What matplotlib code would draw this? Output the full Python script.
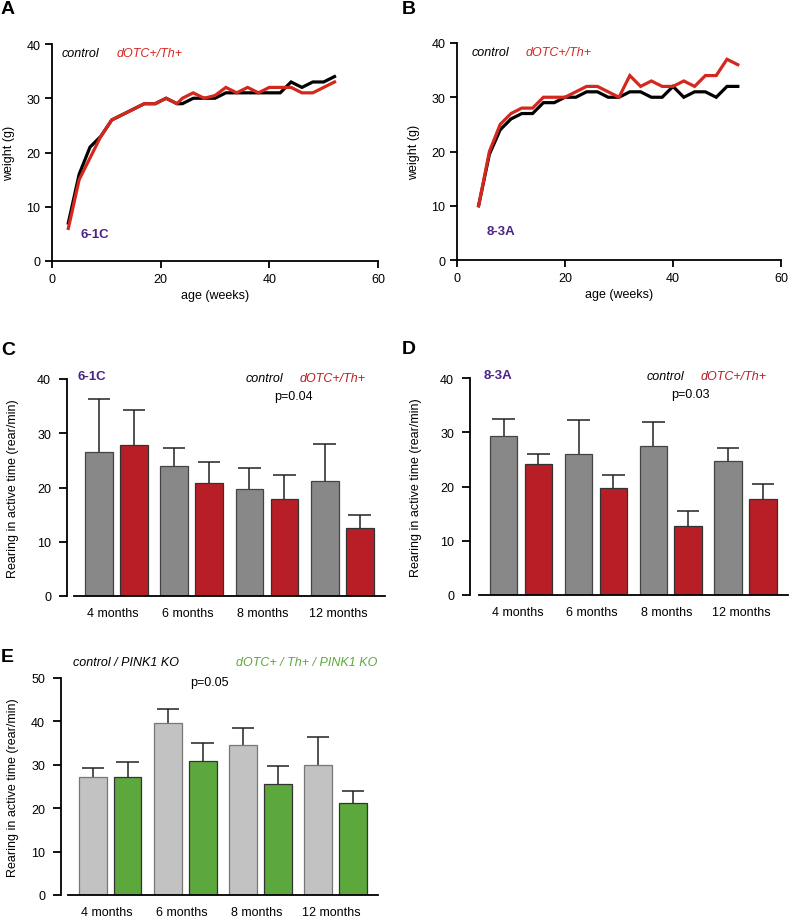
import matplotlib
matplotlib.use('Agg')
import matplotlib.pyplot as plt
import numpy as np

plt.rcParams['font.family'] = ['Liberation Sans', 'DejaVu Sans']
plt.rcParams['font.size'] = 9

# Panel A: weight curves, line 6-1C
weeks_a = [3, 5, 7, 9, 11, 13, 15, 17, 19, 21, 23, 24, 26, 28, 30, 32, 34, 36, 38, 40, 42, 44, 46, 48, 50, 52]
ctrl_a = [7, 16, 21, 23, 26, 27, 28, 29, 29, 30, 29, 29, 30, 30, 30, 31, 31, 31, 31, 31, 31, 33, 32, 33, 33, 34]
tg_a = [6, 15, 19, 23, 26, 27, 28, 29, 29, 30, 29, 30, 31, 30, 30.5, 32, 31, 32, 31, 32, 32, 32, 31, 31, 32, 33]

# Panel B: weight curves, line 8-3A
weeks_b = [4, 6, 8, 10, 12, 14, 16, 18, 20, 22, 24, 26, 28, 30, 32, 34, 36, 38, 40, 42, 44, 46, 48, 50, 52]
ctrl_b = [10, 19.5, 24, 26, 27, 27, 29, 29, 30, 30, 31, 31, 30, 30, 31, 31, 30, 30, 32, 30, 31, 31, 30, 32, 32]
tg_b = [10, 20, 25, 27, 28, 28, 30, 30, 30, 31, 32, 32, 31, 30, 34, 32, 33, 32, 32, 33, 32, 34, 34, 37, 36]

ages = ['4 months', '6 months', '8 months', '12 months']

# Panel C: rearing, 6-1C
ctrl_c = [26.6, 23.9, 19.8, 21.2]
ctrl_c_err = [9.7, 3.4, 3.8, 6.9]
tg_c = [27.8, 20.9, 17.9, 12.6]
tg_c_err = [6.5, 3.8, 4.4, 2.3]

# Panel D: rearing, 8-3A
ctrl_d = [29.4, 25.9, 27.5, 24.7]
ctrl_d_err = [3.0, 6.3, 4.3, 2.4]
tg_d = [24.2, 19.8, 12.8, 17.7]
tg_d_err = [1.7, 2.4, 2.6, 2.8]

# Panel E: rearing, PINK1 KO background
ctrl_e = [27.3, 39.6, 34.6, 30.0]
ctrl_e_err = [1.9, 3.2, 3.9, 6.4]
tg_e = [27.3, 30.8, 25.5, 21.1]
tg_e_err = [3.3, 4.2, 4.3, 2.8]

RED_LINE = '#d4281f'
RED_BAR = '#b81e26'
GRAY = '#888888'
LGRAY = '#c2c2c2'
GREEN = '#5da83c'
PURPLE = '#4a2486'

W, H = 789, 920
fig = plt.figure(figsize=(W / 100, H / 100), dpi=100)


def px_axes(x0, x1, y0, y1):
    # pixel box -> figure fraction
    return fig.add_axes([x0 / W, 1 - y1 / H, (x1 - x0) / W, (y1 - y0) / H])


def weight_panel(ax, weeks, ctrl, tg, strain, lbl_xy):
    ax.plot(weeks, ctrl, color='black', lw=2.3, solid_joinstyle='miter')
    ax.plot(weeks, tg, color=RED_LINE, lw=2.3, solid_joinstyle='miter')
    ax.set_xlim(0, 60)
    ax.set_ylim(0, 40)
    ax.set_xticks([0, 20, 40, 60])
    ax.set_yticks([0, 10, 20, 30, 40])
    for s in ['top', 'right']:
        ax.spines[s].set_visible(False)
    for s in ['left', 'bottom']:
        ax.spines[s].set_linewidth(1.3)
    ax.tick_params(length=5, width=1.3, pad=3.5, labelsize=9)
    ax.set_xlabel('age (weeks)', fontsize=9, labelpad=3)
    ax.set_ylabel('weight (g)', fontsize=9, labelpad=8)
    ax.text(lbl_xy[0], 38.3, 'control', style='italic', color='black', fontsize=9, va='center')
    ax.text(lbl_xy[1], 38.3, 'dOTC+/Th+', style='italic', color=RED_LINE, fontsize=9, va='center')
    ax.text(lbl_xy[2], lbl_xy[3], strain, color=PURPLE, fontweight='bold', fontsize=9.5, va='center')


def up_err(ax, x, vals, errs):
    # upper-only error bars with a cap
    tops = np.array(vals) + np.array(errs)
    ax.vlines(x, vals, tops, color='#222222', lw=1.1, zorder=1)
    ax.hlines(tops, x - 0.15, x + 0.15, color='#222222', lw=1.1, zorder=1)


def bar_panel(ax, ctrl, ctrl_err, tg, tg_err, c1, c2, e1, ymax, spine_off=5, lpad=13):
    x = np.arange(len(ctrl))
    off, bw = 0.465, 0.368
    ax.bar(x, ctrl, bw, color=c1, edgecolor=e1, linewidth=0.9, zorder=2)
    ax.bar(x + off, tg, bw, color=c2, edgecolor='#333333', linewidth=0.9, zorder=2)
    up_err(ax, x, ctrl, ctrl_err)
    up_err(ax, x + off, tg, tg_err)
    ax.set_xlim(-0.33, 3.8)
    ax.set_ylim(0, ymax)
    ax.set_yticks(np.arange(0, ymax + 1, 10))
    ax.set_xticks(x + off / 2 - 0.05)
    ax.set_xticklabels(ages)
    for s in ['top', 'right']:
        ax.spines[s].set_visible(False)
    ax.spines['left'].set_position(('outward', spine_off))
    ax.spines['left'].set_linewidth(1.3)
    ax.spines['bottom'].set_linewidth(1.3)
    ax.tick_params(axis='y', length=5.5, width=1.3, pad=6, labelsize=9)
    ax.tick_params(axis='x', length=0, pad=8, labelsize=9)
    ax.set_ylabel('Rearing in active time (rear/min)', fontsize=9, labelpad=lpad)


# A
axA = px_axes(52, 378, 45, 262)
weight_panel(axA, weeks_a, ctrl_a, tg_a, '6-1C', (1.7, 11.8, 5.3, 5.0))
# B
axB = px_axes(457, 781, 44, 261)
weight_panel(axB, weeks_b, ctrl_b, tg_b, '8-3A', (2.7, 12.7, 5.4, 5.4))

# C
axC = px_axes(74, 385, 380, 597)
bar_panel(axC, ctrl_c, ctrl_c_err, tg_c, tg_c_err, GRAY, RED_BAR, '#444444', 40, lpad=13)
axC.text(-0.28, 40.6, '6-1C', color=PURPLE, fontweight='bold', fontsize=9.5, va='center', clip_on=False)
axC.text(1.95, 40.2, 'control', style='italic', fontsize=9, va='center')
axC.text(2.66, 40.2, 'dOTC+/Th+', style='italic', color=RED_BAR, fontsize=9, va='center')
axC.text(2.58, 36.9, 'p=0.04', fontsize=9, ha='center', va='center')

# D
axD = px_axes(479, 788, 379, 596)
bar_panel(axD, ctrl_d, ctrl_d_err, tg_d, tg_d_err, GRAY, RED_BAR, '#444444', 40, spine_off=6.5, lpad=13)
axD.text(-0.27, 40.5, '8-3A', color=PURPLE, fontweight='bold', fontsize=9.5, va='center', clip_on=False)
axD.text(1.91, 40.4, 'control', style='italic', fontsize=9, va='center')
axD.text(2.63, 40.4, 'dOTC+/Th+', style='italic', color=RED_BAR, fontsize=9, va='center')
axD.text(2.50, 37.0, 'p=0.03', fontsize=9, ha='center', va='center')

# E
axE = px_axes(68, 378, 679, 896)
bar_panel(axE, ctrl_e, ctrl_e_err, tg_e, tg_e_err, LGRAY, GREEN, '#777777', 50, lpad=9)
axE.text(-0.26, 53.6, 'control / PINK1 KO', style='italic', fontsize=9, va='center', clip_on=False)
axE.text(1.91, 53.6, 'dOTC+ / Th+ / PINK1 KO', style='italic', color=GREEN, fontsize=9,
         va='center', clip_on=False)
axE.text(1.55, 49.0, 'p=0.05', fontsize=9, ha='center', va='center', clip_on=False)

# panel letters
for lbl, (px, py) in {'A': (1, 1), 'B': (402, 1), 'C': (1, 342), 'D': (402, 341), 'E': (1, 649)}.items():
    fig.text(px / W, 1 - py / H, lbl, fontsize=14, fontweight='bold', va='top', ha='left')

fig.savefig('out.png', dpi=100)
